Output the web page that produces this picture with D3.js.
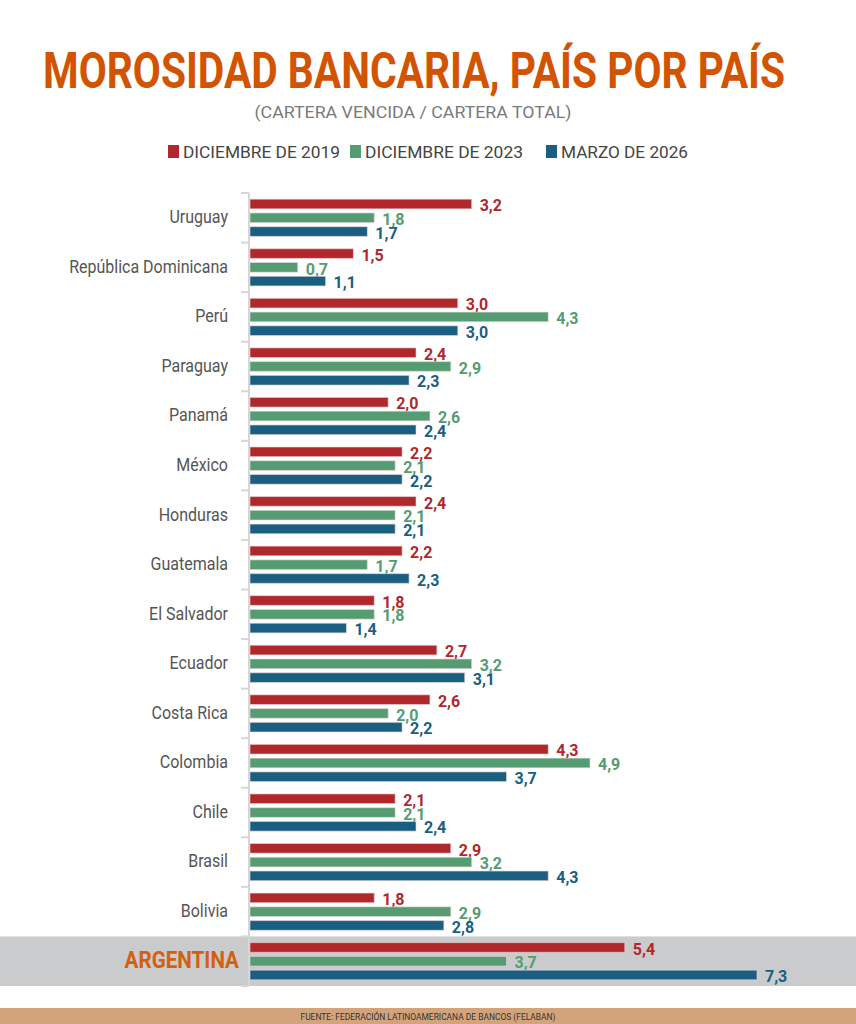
<!DOCTYPE html>
<html><head><meta charset="utf-8">
<script src="https://cdn.jsdelivr.net/npm/d3@7"></script>
<style>
html,body{margin:0;padding:0;background:#fff;}
svg{display:block;font-family:Roboto, "Noto Sans", sans-serif;}
</style></head>
<body>
<svg id="chart" width="856" height="1024"></svg>
<script>
const countries = ["Uruguay","República Dominicana","Perú","Paraguay","Panamá","México","Honduras","Guatemala","El Salvador","Ecuador","Costa Rica","Colombia","Chile","Brasil","Bolivia","ARGENTINA"];
const dic2019 = [3.2,1.5,3.0,2.4,2.0,2.2,2.4,2.2,1.8,2.7,2.6,4.3,2.1,2.9,1.8,5.4];
const dic2023 = [1.8,0.7,4.3,2.9,2.6,2.1,2.1,1.7,1.8,3.2,2.0,4.9,2.1,3.2,2.9,3.7];
const mar2026 = [1.7,1.1,3.0,2.3,2.4,2.2,2.1,2.3,1.4,3.1,2.2,3.7,2.4,4.3,2.8,7.3];
const seriesNames = ["DICIEMBRE DE 2019","DICIEMBRE DE 2023","MARZO DE 2026"];
const seriesKeys = ["s2019","s2023","s2026"];
const colors = ["#b0282c","#559c72","#1a5e82"];
const highlight = "ARGENTINA";

const data = countries.map((c,i)=>({country:c, s2019:dic2019[i], s2023:dic2023[i], s2026:mar2026[i]}));

const svg = d3.select("#chart");
const fmt = v => d3.format(".1f")(v).replace(".", ",");

// Title
svg.append("text").attr("x",414).attr("y",88).attr("text-anchor","middle")
  .attr("font-size",50).attr("font-weight",700).attr("fill","#d35400")
  .attr("textLength",742).attr("lengthAdjust","spacingAndGlyphs")
  .text("MOROSIDAD BANCARIA, PAÍS POR PAÍS");
svg.append("text").attr("x",413).attr("y",118).attr("text-anchor","middle")
  .attr("font-size",17).attr("fill","#7a7a7a")
  .attr("textLength",317).attr("lengthAdjust","spacingAndGlyphs")
  .text("(CARTERA VENCIDA / CARTERA TOTAL)");

// Legend
const legendX = [168,350,546];
const legendW = [157,158,127];
const lg = svg.append("g");
seriesNames.forEach((n,i)=>{
  lg.append("rect").attr("x",legendX[i]).attr("y",145).attr("width",11).attr("height",13).attr("fill",colors[i]);
  lg.append("text").attr("x",legendX[i]+15).attr("y",158).attr("font-size",17).attr("fill","#444")
    .attr("textLength",legendW[i]).attr("lengthAdjust","spacingAndGlyphs").text(n);
});

// Scales
const x0 = 249;
const x = d3.scaleLinear().domain([0,7.3]).range([x0,757]);
const y = d3.scaleBand().domain(countries).range([193,986]).padding(0);
const yi = d3.scaleBand().domain(seriesKeys).range([0,y.bandwidth()]).paddingInner(0.3).paddingOuter(0.45);

// Highlight band
svg.append("rect").attr("x",0).attr("width",856)
  .attr("y",y(highlight)).attr("height",y.bandwidth()).attr("fill","#c9cbcc");

// axis line and ticks
const ag = svg.append("g").attr("transform",`translate(${x0},0)`);
const bounds = countries.map(c=>y(c)).concat([y.range()[1]]);
ag.append("line").attr("x1",0).attr("x2",0).attr("y1",193).attr("y2",986).attr("stroke","#d6d6d6").attr("stroke-width",2);
ag.selectAll("line.tk").data(bounds).join("line").attr("class","tk")
  .attr("x1",-8).attr("x2",0).attr("y1",d=>d).attr("y2",d=>d).attr("stroke","#d6d6d6").attr("stroke-width",2);

// Category labels
svg.append("g").selectAll("text").data(countries).join("text")
  .attr("x",d=>d===highlight?239:228)
  .attr("y",d=>y(d)+y.bandwidth()/2)
  .attr("dy","0.3em")
  .attr("text-anchor","end")
  .attr("font-size",d=>d===highlight?24:18)
  .attr("font-weight",d=>d===highlight?700:400)
  .attr("fill",d=>d===highlight?"#d4600f":"#555")
  .attr("transform",d=>{const tx=d===highlight?239:228; const s=d===highlight?0.86:0.89; return `translate(${tx*(1-s)},0) scale(${s},1)`;})
  .text(d=>d);

// Bars
const groups = svg.append("g").selectAll("g").data(data).join("g")
  .attr("transform",d=>`translate(0,${y(d.country)})`);
seriesKeys.forEach((k,i)=>{
  groups.append("rect")
    .attr("x",x(0)+1)
    .attr("y",yi(k))
    .attr("width",d=>x(d[k])-x(0)-1)
    .attr("height",yi.bandwidth())
    .attr("fill",colors[i])
    .attr("stroke","#e9d9d9").attr("stroke-opacity",0.6).attr("stroke-width",1);
  groups.append("text")
    .attr("x",d=>x(d[k])+8)
    .attr("y",yi(k)+yi.bandwidth()/2)
    .attr("dy","0.45em")
    .attr("font-size",16).attr("font-weight",700)
    .attr("fill",colors[i])
    .text(d=>fmt(d[k]));
});

// Footer
svg.append("rect").attr("x",0).attr("y",1008).attr("width",856).attr("height",16).attr("fill","#d3a47c");
svg.append("text").attr("x",428).attr("y",1020).attr("text-anchor","middle")
  .attr("font-size",9.5).attr("fill","#333")
  .attr("textLength",255).attr("lengthAdjust","spacingAndGlyphs")
  .text("FUENTE: FEDERACIÓN LATINOAMERICANA DE BANCOS (FELABAN)");
</script>
</body></html>
